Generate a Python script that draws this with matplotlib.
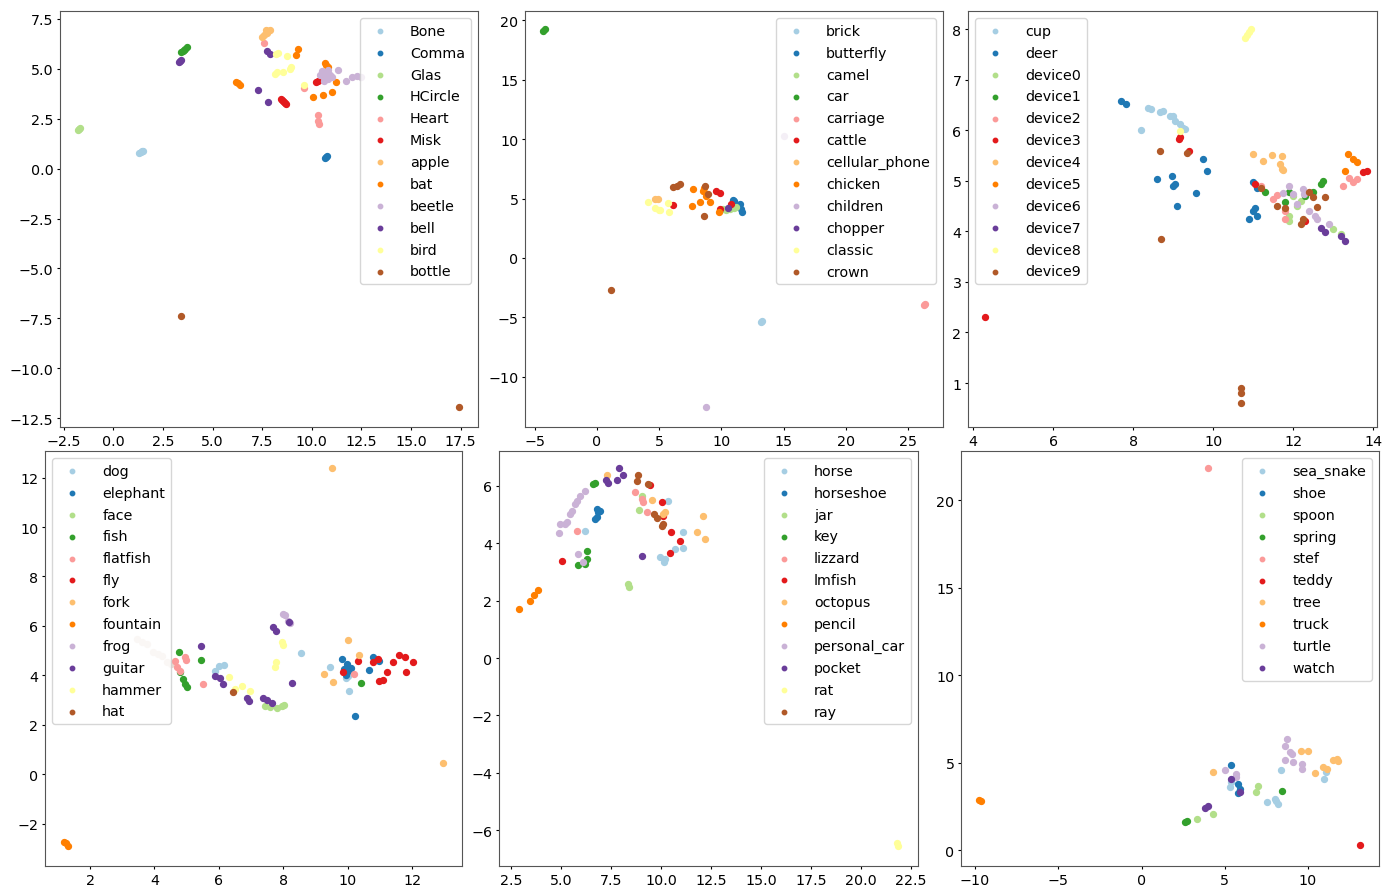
import matplotlib
matplotlib.use("Agg")
import matplotlib.pyplot as plt
import matplotlib.ticker as mt

# ---------------- Panel 1 ----------------
p1_labels = ["Bone", "Comma", "Glas", "HCircle", "Heart", "Misk", "apple", "bat",
             "beetle", "bell", "bird", "bottle"]
p1_x = [
    [1.3, 1.4, 1.45, 1.5],
    [10.65, 10.7, 10.75],
    [-1.75, -1.7, -1.65],
    [3.4, 3.5, 3.55, 3.6, 3.7],
    [7.6, 9.6, 10.3, 10.3, 10.35],
    [8.45, 8.5, 8.55, 8.6, 8.65, 8.7, 10.2, 10.3],
    [7.5, 7.6, 7.7, 7.8, 7.9, 7.75],
    [9.3, 9.2, 6.2, 6.3, 6.4, 10.65, 10.7, 10.8, 11.2, 11.0, 10.55, 10.05],
    [10.4, 10.5, 10.6, 10.7, 10.8, 10.9, 11.0, 10.6, 10.8, 11.3, 11.7, 12.0, 12.3, 12.5],
    [3.3, 3.35, 3.4, 7.75, 7.9, 7.3, 7.8],
    [8.2, 8.75, 8.95, 8.25, 8.15, 8.55, 9.6, 8.3, 8.9],
    [3.4, 17.4],
]
p1_y = [
    [0.8, 0.85, 0.9, 0.9],
    [0.55, 0.6, 0.65],
    [1.95, 2.0, 2.05],
    [5.85, 5.9, 5.95, 6.0, 6.1],
    [6.3, 4.05, 2.7, 2.4, 2.25],
    [3.5, 3.45, 3.4, 3.35, 3.3, 3.25, 4.35, 4.4],
    [6.6, 6.7, 6.95, 6.9, 6.95, 6.8],
    [6.0, 5.7, 4.35, 4.3, 4.2, 5.3, 5.2, 5.1, 4.35, 3.85, 3.7, 3.6],
    [4.7, 4.9, 4.6, 4.8, 4.5, 4.7, 4.6, 4.4, 4.95, 4.95, 4.4, 4.6, 4.65, 4.6],
    [5.35, 5.4, 5.45, 5.9, 5.75, 3.95, 3.35],
    [5.75, 5.65, 5.1, 4.85, 4.75, 4.85, 4.2, 5.8, 5.0],
    [-7.4, -11.95],
]

# ---------------- Panel 2 ----------------
p2_labels = ["brick", "butterfly", "camel", "car", "carriage", "cattle", "cellular_phone",
             "chicken", "children", "chopper", "classic", "crown"]
p2_x = [
    [13.2, 13.25],
    [10.9, 11.0, 11.5, 11.65, 11.6],
    [10.1, 10.4, 10.7, 11.0, 11.2],
    [-4.3, -4.2],
    [26.25, 26.35],
    [9.6, 9.9, 6.1, 10.8, 9.9],
    [4.7, 4.9],
    [7.7, 8.5, 8.8, 8.3, 9.1, 7.6, 9.8, 8.6],
    [8.75, 15.0],
    [10.5],
    [4.1, 4.7, 5.1, 5.7, 5.8, 5.0],
    [6.1, 6.4, 6.7, 8.7, 8.9, 8.6, 1.1],
]
p2_y = [
    [-5.4, -5.35],
    [4.9, 4.8, 4.55, 3.9, 4.1],
    [4.1, 4.05, 4.1, 4.2, 4.3],
    [19.15, 19.25],
    [-3.95, -3.85],
    [5.6, 5.5, 4.5, 4.55, 4.1],
    [5.0, 5.0],
    [5.8, 5.6, 5.2, 4.7, 4.7, 4.4, 3.9, 5.9],
    [-12.55, 10.3],
    [4.2],
    [4.7, 4.2, 4.0, 4.6, 3.9, 4.0],
    [6.0, 6.1, 6.2, 6.1, 5.4, 3.5, -2.7],
]

# ---------------- Panel 3 ----------------
p3_labels = ["cup", "deer", "device0", "device1", "device2", "device3", "device4",
             "device5", "device6", "device7", "device8", "device9"]
p3_x = [
    [8.37, 8.44, 8.67, 8.74, 8.92, 8.99, 9.04, 9.17, 9.24, 9.29, 8.19],
    [7.69, 7.82, 8.6, 8.97, 9.0, 9.05, 9.1, 9.57, 9.74, 9.84, 11.0, 11.1, 11.0, 11.05, 10.9, 11.1],
    [12.0, 12.1, 11.9, 12.2, 13.0, 13.2, 11.9],
    [11.3, 11.8, 11.9, 12.3, 12.5, 12.7, 12.75],
    [11.2, 11.5, 11.6, 11.8, 11.8, 13.25, 13.4, 13.5, 13.6],
    [11.05, 9.4, 9.15, 13.75, 13.85, 12.3, 4.3, 9.17],
    [11.0, 11.25, 11.47, 11.72, 11.67, 11.72, 11.75],
    [13.37, 13.5, 13.6, 13.3],
    [11.9, 12.0, 12.25, 12.27, 11.75, 12.1, 12.4, 12.55, 12.6, 12.9],
    [12.7, 12.8, 13.2, 13.3],
    [10.8, 10.85, 10.9, 10.95, 9.17],
    [8.67, 9.35, 11.2, 12.4, 12.5, 12.8, 11.6, 11.8, 12.6, 12.25, 12.2, 8.7, 10.7, 10.7, 10.7],
]
p3_y = [
    [6.44, 6.42, 6.36, 6.38, 6.28, 6.28, 6.18, 6.12, 6.04, 6.02, 6.0],
    [6.58, 6.52, 5.04, 5.1, 4.9, 4.94, 4.5, 4.76, 5.43, 5.2, 4.98, 4.85, 4.4, 4.46, 4.25, 4.3],
    [4.7, 4.5, 4.2, 4.6, 4.05, 3.95, 4.3],
    [4.78, 4.58, 4.78, 4.7, 4.78, 4.94, 5.0],
    [4.9, 4.64, 4.72, 4.4, 4.24, 4.9, 5.05, 4.98, 5.04],
    [4.94, 5.6, 5.83, 5.17, 5.2, 4.2, 2.3, 5.87],
    [5.53, 5.39, 5.51, 5.49, 5.33, 5.23, 5.21],
    [5.53, 5.43, 5.37, 5.2],
    [4.9, 4.74, 4.84, 4.74, 4.76, 4.54, 4.4, 4.3, 4.24, 4.15],
    [4.07, 3.99, 3.9, 3.8],
    [7.82, 7.88, 7.94, 8.0, 5.98],
    [5.6, 5.55, 4.86, 4.78, 4.68, 4.68, 4.5, 4.46, 4.48, 4.24, 4.14, 3.85, 0.9, 0.8, 0.6],
]

# ---------------- Panel 4 ----------------
p4_labels = ["dog", "elephant", "face", "fish", "flatfish", "fly", "fork", "fountain",
             "frog", "guitar", "hammer", "hat"]
p4_x = [
    [5.88, 6.0, 6.16, 8.55, 9.45, 9.95, 10.04, 10.0],
    [9.83, 9.98, 9.89, 10.0, 10.79, 10.98, 10.66, 10.23, 9.95, 10.1],
    [7.43, 7.6, 7.8, 7.96, 8.02],
    [4.76, 5.45, 4.8, 4.9, 4.95, 5.0, 10.4],
    [4.64, 4.7, 4.8, 4.95, 4.98, 5.5, 10.2],
    [9.86, 10.32, 10.79, 10.94, 11.41, 11.6, 11.78, 11.81, 12.03, 11.22, 11.1, 10.98],
    [10.01, 10.35, 9.27, 9.55, 9.52, 12.96],
    [1.2, 1.25, 1.3],
    [8.0, 8.2, 8.15, 8.05],
    [5.45, 5.88, 6.04, 6.14, 6.88, 6.94, 7.37, 7.5, 7.65, 7.68, 7.78, 8.18, 8.27],
    [6.3, 6.72, 6.97, 6.5, 7.96, 8.0, 7.78, 7.75],
    [6.44],
]
p4_y = [
    [4.17, 4.37, 4.41, 4.9, 4.33, 3.89, 3.36, 3.97],
    [4.66, 4.45, 4.25, 4.17, 4.74, 4.57, 4.21, 2.35, 4.0, 4.3],
    [2.75, 2.71, 2.67, 2.75, 2.79],
    [4.94, 4.62, 4.13, 3.85, 3.64, 3.52, 3.68],
    [4.57, 4.33, 4.17, 4.74, 4.62, 3.64, 4.05],
    [4.13, 4.57, 4.53, 4.66, 4.53, 4.82, 4.74, 4.13, 4.53, 4.13, 3.81, 3.77],
    [5.43, 4.82, 4.05, 3.72, 12.39, 0.45],
    [-2.75, -2.8, -2.9],
    [6.5, 6.1, 6.2, 6.45],
    [5.18, 3.97, 3.89, 3.64, 3.08, 2.96, 3.08, 3.0, 2.87, 5.95, 5.79, 6.15, 3.68],
    [3.93, 3.56, 3.36, 3.44, 5.34, 5.22, 4.53, 4.33],
    [3.32],
]
# unlabelled faint cluster
p4_extra_x = [3.46, 3.6, 3.77, 3.96, 4.1, 4.24, 4.4, 4.5]
p4_extra_y = [5.47, 5.34, 5.26, 4.94, 4.86, 4.78, 4.53, 4.45]

# ---------------- Panel 5 ----------------
p5_labels = ["horse", "horseshoe", "jar", "key", "lizzard", "lmfish", "octopus", "pencil",
             "personal_car", "pocket", "rat", "ray"]
p5_x = [
    [6.2, 10.35, 11.1, 10.7, 11.1, 9.95, 10.2, 10.15],
    [6.8, 6.85, 6.95, 6.7, 6.8],
    [9.05, 8.9, 8.35, 8.4],
    [6.6, 6.7, 6.3, 6.3, 5.85, 6.2],
    [8.7, 9.05, 9.1, 9.3, 5.8],
    [9.45, 10.05, 10.1, 10.5, 10.95, 10.45, 5.05],
    [7.3, 9.55, 10.2, 10.1, 12.1, 11.8, 12.2],
    [2.9, 3.45, 3.65, 3.85],
    [6.2, 5.95, 5.8, 5.7, 5.55, 5.45, 5.3, 5.2, 4.95, 4.9, 5.85, 6.1],
    [7.9, 8.1, 7.8, 7.25, 7.35, 9.05],
    [21.8, 21.85],
    [8.85, 8.8, 9.35, 9.65, 9.8, 10.1, 10.05],
]
p5_y = [
    [4.43, 5.48, 4.39, 3.8, 3.84, 3.52, 3.45, 3.35],
    [5.2, 5.1, 5.13, 4.85, 4.92],
    [5.65, 5.16, 2.58, 2.48],
    [6.07, 6.1, 3.73, 3.45, 3.24, 3.28],
    [5.79, 5.55, 5.44, 5.09, 4.43],
    [6.03, 5.44, 4.95, 4.39, 4.08, 3.66, 3.38],
    [6.38, 5.51, 5.09, 5.02, 4.95, 4.39, 4.15],
    [1.71, 1.99, 2.2, 2.37],
    [5.82, 5.65, 5.48, 5.37, 5.13, 5.02, 4.74, 4.67, 4.67, 4.36, 3.63, 3.35],
    [6.63, 6.38, 6.21, 6.21, 6.1, 3.56],
    [-6.45, -6.55],
    [6.38, 6.17, 6.07, 5.02, 4.88, 4.67, 4.6],
]

# ---------------- Panel 6 ----------------
p6_labels = ["sea_snake", "shoe", "spoon", "spring", "stef", "teddy", "tree", "truck",
             "turtle", "watch"]
p6_x = [
    [5.39, 5.33, 7.54, 8.0, 8.2, 8.1, 8.4, 11.08, 10.96],
    [5.39, 5.8, 5.93, 5.8],
    [3.36, 4.32, 7.0, 6.9],
    [2.64, 2.76, 8.44],
    [4.0],
    [13.14],
    [4.32, 9.55, 10.0, 10.43, 10.9, 11.14, 11.5, 11.74, 11.8],
    [-9.73, -9.65],
    [5.03, 5.7, 5.7, 8.76, 8.64, 8.94, 9.06, 9.12, 8.64, 9.66, 9.66],
    [3.84, 4.0, 5.39, 5.93],
]
p6_y = [
    [3.89, 3.6, 2.74, 2.91, 2.63, 2.8, 4.57, 4.46, 4.06],
    [4.86, 3.77, 3.49, 3.26],
    [1.77, 2.06, 3.66, 3.31],
    [1.6, 1.66, 3.37],
    [21.83],
    [0.29],
    [4.46, 5.66, 5.66, 4.4, 4.74, 4.63, 5.14, 5.2, 5.09],
    [2.86, 2.8],
    [4.57, 4.34, 4.17, 6.34, 5.94, 5.6, 5.49, 5.03, 5.14, 4.91, 4.63],
    [2.4, 2.51, 4.06, 3.31],
]

W, H = 1386, 887
fig = plt.figure(figsize=(W / 100, H / 100), dpi=100)


def box(l, t, r, b):
    return [l / W, 1 - b / H, (r - l) / W, (b - t) / H]


cmap = plt.cm.Paired
FS = 10.3

panels = [
    (box(60, 12, 478, 428), p1_labels, p1_x, p1_y, (-2.68, 18.37), (-12.95, 7.9), "upper right", 2.5, 2.5),
    (box(525, 12, 943, 428), p2_labels, p2_x, p2_y, (-5.78, 27.8), (-14.24, 20.8), "upper right", 5, 5),
    (box(968, 12, 1377, 428), p3_labels, p3_x, p3_y, (3.87, 14.09), (0.13, 8.36), "upper left", 2, 1),
    (box(45, 452, 462, 867), p4_labels, p4_x, p4_y, (0.6, 13.55), (-3.72, 13.08), "upper left", 2, 2),
    (box(499, 452, 918, 867), p5_labels, p5_x, p5_y, (1.9, 22.85), (-7.25, 7.22), "upper right", 2.5, 2),
    (box(961, 452, 1379, 867), p6_labels, p6_x, p6_y, (-10.84, 14.26), (-0.91, 22.8), "upper right", 5, 5),
]

for i, (rect, labels, xs, ys, xl, yl, loc, xstep, ystep) in enumerate(panels):
    ax = fig.add_axes(rect)
    if i == 3:
        ax.scatter(p4_extra_x, p4_extra_y, s=18, color="#ead8cf", label="_nolegend_")
    for k, (lab, x, y) in enumerate(zip(labels, xs, ys)):
        ax.scatter(x, y, s=18, color=cmap(k % 12), label=lab)
    ax.set_xlim(*xl)
    ax.set_ylim(*yl)
    ax.xaxis.set_major_locator(mt.MultipleLocator(xstep))
    ax.yaxis.set_major_locator(mt.MultipleLocator(ystep))
    ax.tick_params(labelsize=FS, length=2.5, pad=2.2)
    for sp in ax.spines.values():
        sp.set_color("#555555")
    ax.legend(loc=loc, fontsize=FS, markerscale=0.75, handletextpad=1.1,
              labelspacing=0.55)

fig.savefig("out.png", dpi=100)
